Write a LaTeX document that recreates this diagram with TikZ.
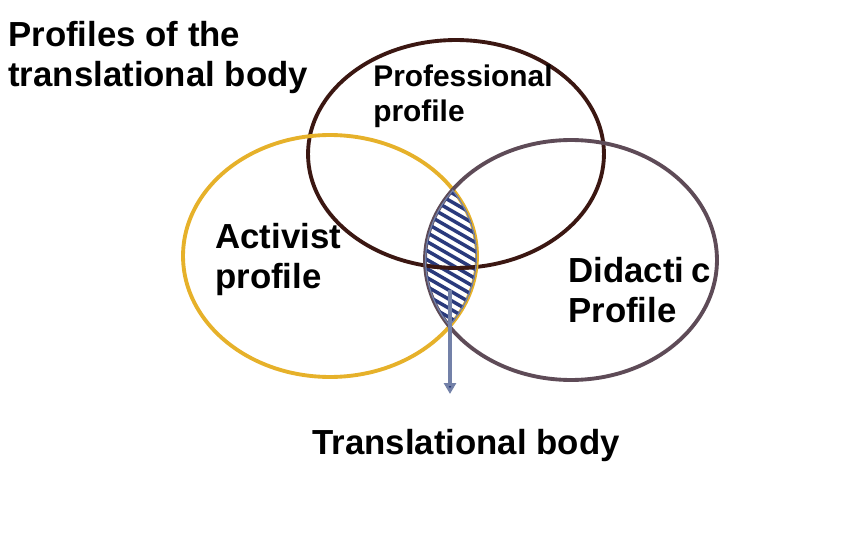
\documentclass[tikz,border=0pt]{standalone}
\usepackage{fontspec}
\setmainfont{Liberation Sans}
\usetikzlibrary{shapes.geometric, arrows.meta, positioning}

\definecolor{profbrown}{HTML}{3B1712}
\definecolor{actgold}{HTML}{E6B12A}
\definecolor{didgray}{HTML}{5E4B57}
\definecolor{hatchblue}{HTML}{2A3A7C}
\definecolor{arrowblue}{HTML}{7381A8}

\begin{document}
\begin{tikzpicture}[
    x=0.02cm, y=-0.02cm,
    profile/.style={ellipse, draw, line width=2.2pt, inner sep=0pt},
    label/.style={anchor=north west, inner sep=0pt, align=left, font=\bfseries\fontsize{19.8}{22.6}\selectfont},
    smalllabel/.style={anchor=north west, inner sep=0pt, align=left, font=\bfseries\fontsize{17}{19.8}\selectfont},
    hatch/.style={hatchblue, line width=2pt},
    arrow/.style={-{Triangle[length=2.2mm, width=2.4mm, fill=hatchblue]}, arrowblue, line width=2.2pt}
]
\useasboundingbox (0,0) rectangle (850,538);

% Three profiles
\node[profile, draw=profbrown, minimum width=5.92cm, minimum height=4.56cm] (professional) at (456,154) {};
\node[profile, draw=actgold, minimum width=5.88cm, minimum height=4.84cm] (activist) at (330,256) {};
\node[profile, draw=didgray, minimum width=5.84cm, minimum height=4.8cm] (didactic) at (571,260) {};

% Hatched overlap
\begin{scope}
    \clip (activist.center) ellipse [x radius=2.94cm, y radius=2.42cm];
    \clip (didactic.center) ellipse [x radius=2.92cm, y radius=2.4cm];
    \foreach \k in {-11,...,11}
        \draw[hatch] (372,210+\k*9) -- (532,302+\k*9);
    \draw[profbrown, line width=2.2pt] (professional.center) ellipse [x radius=2.96cm, y radius=2.28cm];
    \draw[arrowblue, line width=1.4pt] (activist.center) ellipse [x radius=2.94cm, y radius=2.42cm];
    \draw[arrowblue, line width=1.4pt] (didactic.center) ellipse [x radius=2.92cm, y radius=2.4cm];
\end{scope}

% Texts
\node[label] (title) at (8,21) {Profiles of the\\translational body};
\node[smalllabel] (proftext) at (373,65) {Professional\\profile};
\node[label] (acttext) at (215,223) {Activist\\profile};
\node[label] (didtext) at (568,257) {Didacti\kern4pt c\\Profile};
\node[label] (body) at (312,429) {Translational body};

% Arrow to the body
\coordinate (lens) at (450,290);
\coordinate (tip) at (450,394);
\draw[arrow] (lens) -- (tip);

\end{tikzpicture}
\end{document}
